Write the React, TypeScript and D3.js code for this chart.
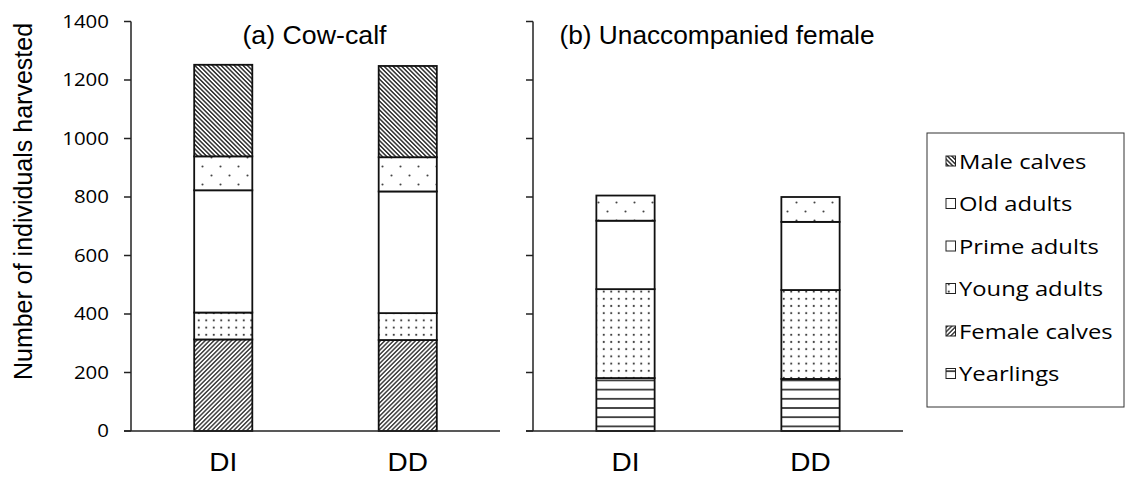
import React from "react";
import * as d3 from "d3";

const categories = ["DI", "DD"];
const panelTitles = ["(a) Cow-calf", "(b) Unaccompanied female"];
const seriesNames = ["Yearlings", "Female calves", "Young adults", "Prime adults", "Old adults", "Male calves"];
const yTicks = [0, 200, 400, 600, 800, 1000, 1200, 1400];

// (a) Cow-calf, values for [DI, DD]
const cowCalfYearlings = [0, 0];
const cowCalfFemaleCalves = [313, 311];
const cowCalfYoungAdults = [92, 92];
const cowCalfPrimeAdults = [418, 416];
const cowCalfOldAdults = [116, 117];
const cowCalfMaleCalves = [313, 312];

// (b) Unaccompanied female, values for [DI, DD]
const unaccYearlings = [181, 178];
const unaccFemaleCalves = [0, 0];
const unaccYoungAdults = [304, 304];
const unaccPrimeAdults = [234, 233];
const unaccOldAdults = [86, 85];
const unaccMaleCalves = [0, 0];

const patternIds: Record<string, string> = {
  "Yearlings": "pYear",
  "Female calves": "pFemale",
  "Young adults": "pYoung",
  "Prime adults": "pPrime",
  "Old adults": "pOld",
  "Male calves": "pMale",
};

function buildRows(arrs: number[][]) {
  return categories.map((c, i) => {
    const row: any = { cat: c };
    seriesNames.forEach((s, k) => (row[s] = arrs[k][i]));
    return row;
  });
}

const panelData = [
  buildRows([cowCalfYearlings, cowCalfFemaleCalves, cowCalfYoungAdults, cowCalfPrimeAdults, cowCalfOldAdults, cowCalfMaleCalves]),
  buildRows([unaccYearlings, unaccFemaleCalves, unaccYoungAdults, unaccPrimeAdults, unaccOldAdults, unaccMaleCalves]),
];

const W = 1127;
const H = 477;
const panelX = [
  [131, 500],
  [533, 903],
];
const yTop = 21.5;
const yBottom = 431;
const AX = "#222";
const CAL = "'Open Sans', Lato, sans-serif";
const ARIAL = "'Liberation Sans', Arial, sans-serif";

export default function App() {
  const y = d3.scaleLinear().domain([0, 1400]).range([yBottom, yTop]);
  const stack = d3.stack<any>().keys(seriesNames);

  return (
    <svg width={W} height={H} style={{ position: "absolute", left: 0, top: 0, background: "#fff" }}>
      <defs>
        <pattern id="pMale" width={3.1} height={3.1} patternUnits="userSpaceOnUse" patternTransform="rotate(-45)">
          <rect width={3.1} height={3.1} fill="#fff" />
          <line x1={1.55} y1={0} x2={1.55} y2={3.1} stroke="#222" strokeWidth={1.4} />
        </pattern>
        <pattern id="pFemale" width={3.1} height={3.1} patternUnits="userSpaceOnUse" patternTransform="rotate(45)">
          <rect width={3.1} height={3.1} fill="#fff" />
          <line x1={1.55} y1={0} x2={1.55} y2={3.1} stroke="#222" strokeWidth={1.3} />
        </pattern>
        <pattern id="pYoung" width={7.5} height={7.2} patternUnits="userSpaceOnUse">
          <rect width={7.5} height={7.2} fill="#fff" />
          <circle cx={3.75} cy={3.6} r={1.05} fill="#333" />
        </pattern>
        <pattern id="pOld" width={18} height={18} patternUnits="userSpaceOnUse">
          <rect width={18} height={18} fill="#fff" />
          <circle cx={4.5} cy={4.5} r={1.05} fill="#444" />
          <circle cx={13.5} cy={13.5} r={1.05} fill="#444" />
        </pattern>
        <pattern id="pPrime" width={10} height={10} patternUnits="userSpaceOnUse">
          <rect width={10} height={10} fill="#fff" />
        </pattern>
        <pattern id="pYear" width={10} height={9.2} patternUnits="userSpaceOnUse" y={yBottom}>
          <rect width={10} height={9.2} fill="#fff" />
          <line x1={0} y1={4.6} x2={10} y2={4.6} stroke="#222" strokeWidth={1.6} />
        </pattern>
      </defs>

      {/* Y axis title */}
      <text
        transform={`translate(32,201.5) rotate(-90)`}
        textAnchor="middle"
        fontFamily={ARIAL}
        fontSize={25}
        fill="#000"
      >
        Number of individuals harvested
      </text>

      {panelData.map((rows, pi) => {
        const [x0, x1] = panelX[pi];
        const x = d3.scalePoint<string>().domain(categories).range([x0, x1]).padding(0.5);
        const bw = x.step() * 0.315;
        const series = stack(rows);
        return (
          <g key={pi}>
            {yTicks.map((t) => (
              <line key={t} x1={x0 - 7} x2={x0} y1={y(t)} y2={y(t)} stroke={AX} strokeWidth={1.5} />
            ))}
            {pi === 0 &&
              yTicks.map((t) => (
                <text
                  key={"l" + t}
                  transform={`translate(109,${y(t) + 6.3}) scale(1.17,1)`}
                  textAnchor="end"
                  fontFamily={CAL}
                  fontSize={17.5}
                  fill="#000"
                >
                  {t}
                </text>
              ))}
            {series.map((s) =>
              s.map((d, i) => {
                const h = y(d[0]) - y(d[1]);
                if (h <= 0) return null;
                return (
                  <rect
                    key={s.key + i}
                    x={x(categories[i])! - bw / 2}
                    y={y(d[1])}
                    width={bw}
                    height={h}
                    fill={`url(#${patternIds[s.key]})`}
                    stroke="#111"
                    strokeWidth={1.8}
                  />
                );
              })
            )}
            <line x1={x0} x2={x0} y1={yTop} y2={yBottom} stroke={AX} strokeWidth={1.5} />
            <line x1={x0 - 7} x2={x1} y1={yBottom} y2={yBottom} stroke={AX} strokeWidth={1.5} />
            {categories.map((c) => (
              <text
                key={c}
                transform={`translate(${x(c)},471) scale(1.12,1)`}
                textAnchor="middle"
                fontFamily={ARIAL}
                fontSize={25}
                fill="#000"
              >
                {c}
              </text>
            ))}
            <text
              transform={`translate(${(x0 + x1) / 2 - 1},44) scale(${pi === 0 ? 1.07 : 1.05},1)`}
              textAnchor="middle"
              fontFamily={ARIAL}
              fontSize={25}
              fill="#000"
            >
              {panelTitles[pi]}
            </text>
          </g>
        );
      })}

      {/* legend */}
      <rect x={927} y={133} width={197} height={274} fill="#fff" stroke="#333" strokeWidth={1} />
      {seriesNames
        .slice()
        .reverse()
        .map((s, i) => {
          const by = 168.5 + i * 42.5;
          return (
            <g key={s}>
              <rect x={946} y={by - 12.5} width={9.5} height={10} fill={`url(#${patternIds[s]})`} stroke="#222" strokeWidth={1} />
              <text
                transform={`translate(959,${by}) scale(1.22,1)`}
                fontFamily={CAL}
                fontSize={19.5}
                fill="#000"
              >
                {s}
              </text>
            </g>
          );
        })}
    </svg>
  );
}
